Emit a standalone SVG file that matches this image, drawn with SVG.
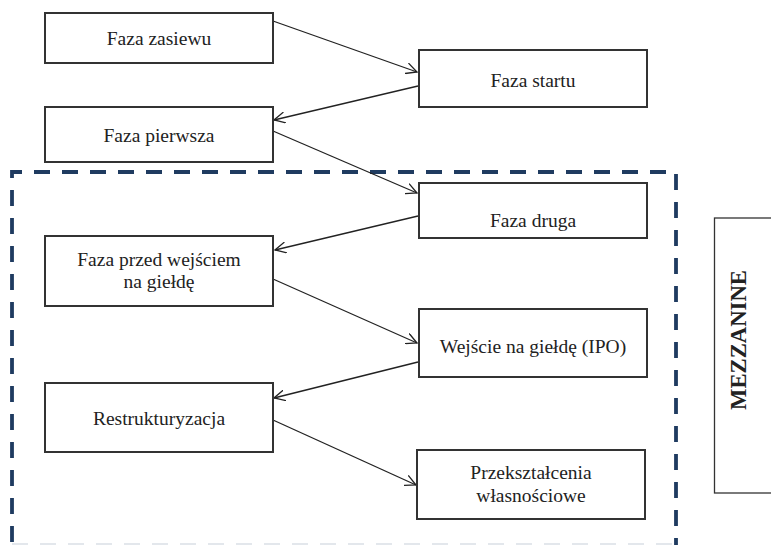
<svg xmlns="http://www.w3.org/2000/svg" width="771" height="545" viewBox="0 0 771 545">
<style>
.box{fill:#fff;stroke:#333;stroke-width:2}
.t{font-size:19.5px;fill:#222;text-anchor:middle}
.c{stroke:#222;stroke-width:1.3;fill:none;marker-end:url(#ah)}
.dash{stroke:#1f3b60;stroke-width:3.8;fill:none;stroke-dasharray:16 12}
</style>
<defs>
<marker id="ah" viewBox="0 0 12 12" refX="11" refY="6" markerWidth="12" markerHeight="12" markerUnits="userSpaceOnUse" orient="auto">
<path d="M0,0.5 L11,6 L0,11.5" fill="none" stroke="#222" stroke-width="1.3"/>
</marker>
</defs>
<rect width="771" height="545" fill="#fff"/>
<g id="frame">
<path class="dash" d="M12,542 L12,172 L676,172 L676,545"/>
<line x1="12" y1="544" x2="676" y2="544" stroke="#e3e7ec" stroke-width="2" stroke-dasharray="16 12"/>
</g>
<g id="mezzanine" font-family="Liberation Serif, Times New Roman, serif">
<rect x="714.5" y="218" width="70" height="275" fill="#fff" stroke="#333" stroke-width="1.3"/>
<text transform="translate(746,340) rotate(-90)" font-size="22.7" font-weight="bold" fill="#222" text-anchor="middle">MEZZANINE</text>
</g>
<g id="connectors">
<line class="c" x1="273" y1="21" x2="417" y2="72"/>
<line class="c" x1="418" y1="86" x2="274" y2="120"/>
<line class="c" x1="273" y1="131" x2="417" y2="193"/>
<line class="c" x1="418" y1="216" x2="275" y2="250"/>
<line class="c" x1="273" y1="279" x2="417" y2="343"/>
<line class="c" x1="418" y1="362" x2="274" y2="398"/>
<line class="c" x1="273" y1="420" x2="416" y2="485"/>
</g>
<g font-family="Liberation Serif, Times New Roman, serif">
<g id="n1"><rect class="box" x="45" y="13" width="228" height="50"/><text class="t" x="159" y="45">Faza zasiewu</text></g>
<g id="n2"><rect class="box" x="419" y="50" width="228" height="57"/><text class="t" x="533" y="87">Faza startu</text></g>
<g id="n3"><rect class="box" x="45" y="107" width="228" height="55"/><text class="t" x="159" y="141.5">Faza pierwsza</text></g>
<g id="n4"><rect class="box" x="419" y="183" width="228" height="55"/><text class="t" x="533" y="226.5">Faza druga</text></g>
<g id="n5"><rect class="box" x="45" y="236" width="228" height="70"/><text class="t" x="159" y="266">Faza przed wejściem</text><text class="t" x="159" y="288">na giełdę</text></g>
<g id="n6"><rect class="box" x="419" y="309" width="228" height="68"/><text class="t" x="533" y="353">Wejście na giełdę (IPO)</text></g>
<g id="n7"><rect class="box" x="45" y="383" width="228" height="69"/><text class="t" x="159" y="425">Restrukturyzacja</text></g>
<g id="n8"><rect class="box" x="417" y="450" width="228" height="69"/><text class="t" x="531" y="479">Przekształcenia</text><text class="t" x="531" y="502">własnościowe</text></g>
</g>
</svg>
